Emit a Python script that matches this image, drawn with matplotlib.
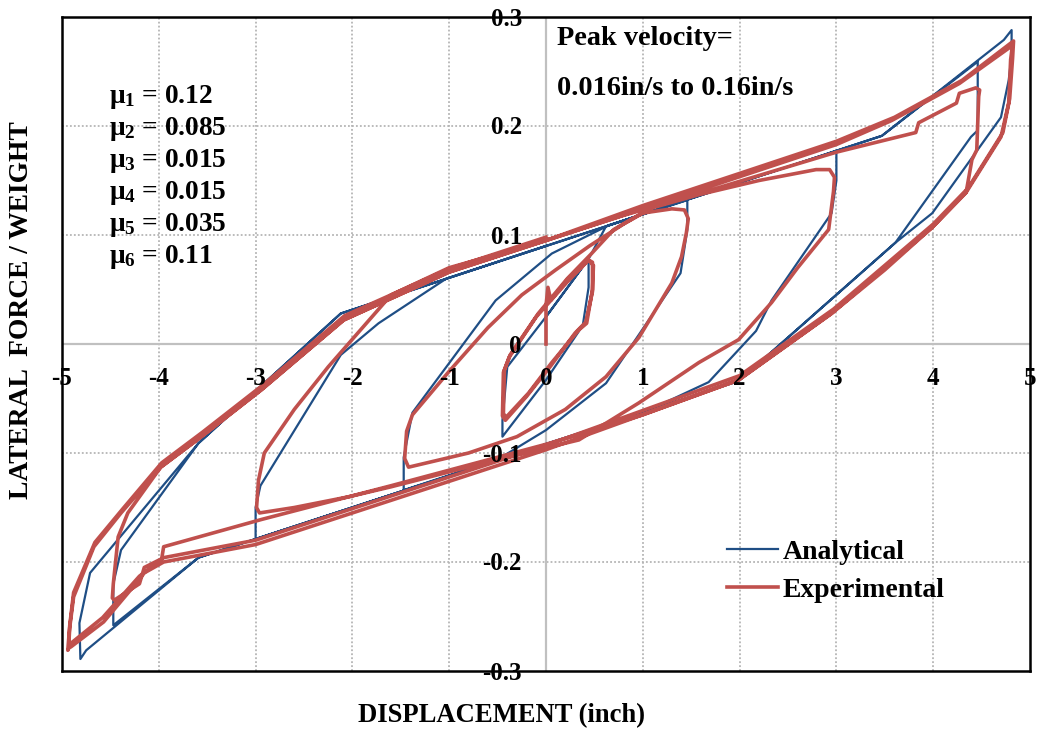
import matplotlib
matplotlib.use("Agg")
import matplotlib.pyplot as plt
from matplotlib.transforms import offset_copy

plt.rcParams['font.family'] = ['Liberation Serif', 'DejaVu Serif']
plt.rcParams['font.weight'] = 'bold'
plt.rcParams['mathtext.fontset'] = 'custom'
plt.rcParams['mathtext.rm'] = 'Liberation Serif:bold'
plt.rcParams['mathtext.it'] = 'Liberation Serif:bold'
plt.rcParams['mathtext.bf'] = 'Liberation Serif:bold'

# ---- Analytical (piecewise linear model), one list per amplitude ----
ana_05_x = [0, 0, 0.44, 0.44, 0.38, 0, -0.45, -0.45, -0.40, 0, 0.44]
ana_05_y = [0, 0.025, 0.078, 0.052, 0.017, -0.033, -0.085, -0.070, -0.021, 0.025, 0.078]
ana_15_x = [0.62, 1.46, 1.46, 1.39, 0.62, 0.0, -0.50, -1.47, -1.47, -1.38, -0.52, 0.06, 0.65]
ana_15_y = [0.108, 0.132, 0.105, 0.065, -0.036, -0.079, -0.106, -0.134, -0.104, -0.063, 0.040, 0.083, 0.109]
ana_30_x = [3.00, 3.00, 2.95, 2.33, 2.17, 1.68, 1.03, -3.00, -3.00, -2.95, -2.12, -1.73, -1.03]
ana_30_y = [0.177, 0.150, 0.120, 0.040, 0.012, -0.035, -0.062, -0.179, -0.150, -0.130, -0.010, 0.019, 0.060]
ana_45_x = [3.47, 4.46, 4.46, 4.39, 3.61, 1.99, -3.59, -4.47, -4.47, -4.39, -3.59, -2.12]
ana_45_y = [0.191, 0.259, 0.196, 0.190, 0.093, -0.034, -0.196, -0.258, -0.220, -0.189, -0.091, 0.028]
ana_48_x = [3.47, 4.73, 4.81, 4.81, 4.78, 4.70, 3.99, 3.61, 1.99, -3.59, -4.75, -4.81,
            -4.82, -4.71, -3.59, -2.12, 0.0]
ana_48_y = [0.191, 0.279, 0.288, 0.265, 0.242, 0.208, 0.120, 0.093, -0.034, -0.196, -0.281, -0.289,
            -0.256, -0.210, -0.091, 0.028, 0.090]

# ---- Experimental (test record) ----
exp_05_x = [0, 0.0, 0.02, 0.05, 0.21, 0.44, 0.48, 0.48, 0.42, 0.34, 0.06, -0.18, -0.41, -0.44,
            -0.43, -0.38, -0.10, 0.21, 0.44, 0.49, 0.48, 0.41, 0.30, 0.05, -0.20, -0.42, -0.45,
            -0.44, -0.37, -0.08, 0.22, 0.46]
exp_05_y = [0, 0.035, 0.052, 0.040, 0.058, 0.077, 0.075, 0.050, 0.019, 0.013, -0.017, -0.045, -0.067, -0.064,
            -0.024, -0.012, 0.025, 0.056, 0.077, 0.072, 0.048, 0.020, 0.010, -0.020, -0.048, -0.070, -0.066,
            -0.026, -0.010, 0.028, 0.060, 0.082]
exp_15_x = [0.70, 0.99, 1.30, 1.43, 1.47, 1.45, 1.40, 1.30, 0.96, 0.62, 0.20, -0.30, -0.80, -1.42,
            -1.46, -1.44, -1.38, -1.00, -0.60, -0.25, 0.10, 0.45, 0.80, 1.10]
exp_15_y = [0.105, 0.120, 0.124, 0.123, 0.115, 0.102, 0.080, 0.056, 0.006, -0.030, -0.060, -0.085, -0.100, -0.113,
            -0.105, -0.080, -0.065, -0.025, 0.015, 0.045, 0.068, 0.090, 0.110, 0.125]
exp_30_x = [1.58, 2.20, 2.79, 2.93, 2.98, 2.97, 2.95, 2.92, 2.60, 2.33, 1.99, 1.58, 0.96, 0.34, -0.50,
            -1.60, -2.03, -2.60, -2.96, -2.99, -2.97, -2.91, -2.60, -2.25, -1.60, -1.00, 0.00, 0.80]
exp_30_y = [0.137, 0.150, 0.160, 0.160, 0.153, 0.140, 0.126, 0.105, 0.070, 0.038, 0.004, -0.017, -0.054, -0.088, -0.106,
            -0.131, -0.140, -0.150, -0.155, -0.150, -0.125, -0.100, -0.060, -0.021, 0.045, 0.070, 0.095, 0.118]
exp_45_x = [1.58, 3.00, 3.82, 3.85, 4.24, 4.27, 4.44, 4.48, 4.47, 4.45, 4.40, 4.34, 3.99, 3.50, 2.95, 1.99,
            1.00, 0.00, -1.60, -2.94, -3.95, -3.97, -4.15, -4.20, -4.46, -4.48, -4.47, -4.42, -4.32, -3.98,
            -3.56, -2.94, -2.09, -1.00, 0.00]
exp_45_y = [0.138, 0.176, 0.194, 0.203, 0.221, 0.230, 0.235, 0.233, 0.227, 0.178, 0.169, 0.139, 0.107, 0.068, 0.028, -0.033,
            -0.065, -0.092, -0.130, -0.161, -0.186, -0.197, -0.205, -0.220, -0.235, -0.233, -0.220, -0.177, -0.155, -0.113,
            -0.085, -0.042, 0.022, 0.066, 0.095]
exp_48a_x = [1.00, 3.00, 3.57, 4.27, 4.79, 4.82, 4.81, 4.80, 4.78, 4.70, 4.34, 3.99, 2.95, 1.99, 0.00, -3.00,
             -3.95, -4.15, -4.21, -4.57, -4.91, -4.93, -4.92, -4.88, -4.67, -4.39, -3.98, -3.56, -2.94, -2.09,
             -1.00, 0.00]
exp_48a_y = [0.124, 0.183, 0.205, 0.239, 0.272, 0.275, 0.268, 0.261, 0.221, 0.190, 0.139, 0.107, 0.028, -0.033, -0.097, -0.184,
             -0.200, -0.210, -0.217, -0.255, -0.278, -0.276, -0.260, -0.232, -0.186, -0.155, -0.113, -0.085, -0.042, 0.022,
             0.066, 0.095]
exp_48b_x = [1.00, 3.00, 3.60, 4.30, 4.80, 4.83, 4.82, 4.79, 4.72, 4.36, 4.00, 2.97, 2.00, 0.00, -3.00, -3.95,
             -4.20, -4.58, -4.90, -4.94, -4.92, -4.88, -4.66, -4.37, -3.97, -3.55, -2.93, -2.08, -1.00, 0.00]
exp_48b_y = [0.127, 0.186, 0.208, 0.242, 0.276, 0.278, 0.262, 0.225, 0.194, 0.143, 0.110, 0.032, -0.029, -0.093, -0.180, -0.196,
             -0.213, -0.251, -0.274, -0.281, -0.258, -0.228, -0.182, -0.151, -0.109, -0.081, -0.038, 0.026, 0.069, 0.098]

ana_x = ana_05_x + ana_15_x + ana_30_x + ana_45_x + ana_48_x
ana_y = ana_05_y + ana_15_y + ana_30_y + ana_45_y + ana_48_y
exp_x = exp_05_x + exp_15_x + exp_30_x + exp_45_x + exp_48a_x + exp_48b_x
exp_y = exp_05_y + exp_15_y + exp_30_y + exp_45_y + exp_48a_y + exp_48b_y

x_ticks = [-5, -4, -3, -2, -1, 0, 1, 2, 3, 4, 5]
y_ticks = [-0.3, -0.2, -0.1, 0, 0.1, 0.2, 0.3]
y_tick_labels = ['-0.3', '-0.2', '-0.1', '0', '0.1', '0.2', '0.3']
mu_labels = [r'$\mu_1$ = 0.12', r'$\mu_2$ = 0.085', r'$\mu_3$ = 0.015',
             r'$\mu_4$ = 0.015', r'$\mu_5$ = 0.035', r'$\mu_6$ = 0.11']

BLUE = '#1F4E85'
RED = '#C0504D'

fig = plt.figure(figsize=(10.37, 7.30), dpi=100)
ax = fig.add_axes([62 / 1037, 1 - 671 / 730, 968 / 1037, 654 / 730])
ax.set_xlim(-5, 5)
ax.set_ylim(-0.3, 0.3)

# grid: dotted, with solid grey lines through the origin
for xv in x_ticks[1:-1]:
    if xv != 0:
        ax.axvline(xv, color='#b5b5b5', lw=1.3, ls=(0, (1, 1.2)), zorder=0)
for yv in y_ticks[1:-1]:
    if yv != 0:
        ax.axhline(yv, color='#b5b5b5', lw=1.3, ls=(0, (1, 1.2)), zorder=0)
ax.axvline(0, color='#c0c0c0', lw=1.6, zorder=0)
ax.axhline(0, color='#c0c0c0', lw=1.6, zorder=0)

ax.plot(ana_x, ana_y, color=BLUE, lw=1.6, label='Analytical', zorder=2)
ax.plot(exp_x, exp_y, color=RED, lw=2.6, label='Experimental', zorder=3)

ax.set_xticks([])
ax.set_yticks([])
for s in ax.spines.values():
    s.set_linewidth(1.8)
    s.set_color('black')

# tick labels sit on the zero lines
tx = offset_copy(ax.transData, fig=fig, x=0, y=-41, units='dots')
for xv in x_ticks:
    ax.text(xv, 0, str(xv), transform=tx, ha='center', va='baseline',
            fontsize=18, fontweight='bold', zorder=5, clip_on=False)
ty = offset_copy(ax.transData, fig=fig, x=-24, y=-8.5, units='dots')
for yv, lab in zip(y_ticks, y_tick_labels):
    ax.text(0, yv, lab, transform=ty, ha='right', va='baseline',
            fontsize=18, fontweight='bold', zorder=5, clip_on=False)

# annotations
mu_y = [0.2211, 0.1917, 0.1624, 0.1330, 0.1037, 0.0743]
for yv, lab in zip(mu_y, mu_labels):
    ax.text(-4.51, yv, lab, ha='left', va='baseline', fontsize=19.7, fontweight='bold')
ax.text(0.114, 0.2743, 'Peak velocity=', ha='left', va='baseline', fontsize=20.3, fontweight='bold')
ax.text(0.114, 0.2284, '0.016in/s to 0.16in/s', ha='left', va='baseline', fontsize=20.3, fontweight='bold')

fig.text(22 / 1037, 1 - 310 / 730, 'LATERAL  FORCE / WEIGHT', rotation=90,
         ha='center', va='center', fontsize=19.8, fontweight='bold')
fig.text(501 / 1037, 1 - 722 / 730, 'DISPLACEMENT (inch)', ha='center', va='baseline',
         fontsize=19.2, fontweight='bold')

ax.legend(loc='upper left', bbox_to_anchor=(0.687, 0.2014), frameon=False,
          borderpad=0, borderaxespad=0, handlelength=1.83, handletextpad=0.18,
          labelspacing=0.46, prop={'size': 20, 'weight': 'bold'})

fig.savefig('out.png', dpi=100)
